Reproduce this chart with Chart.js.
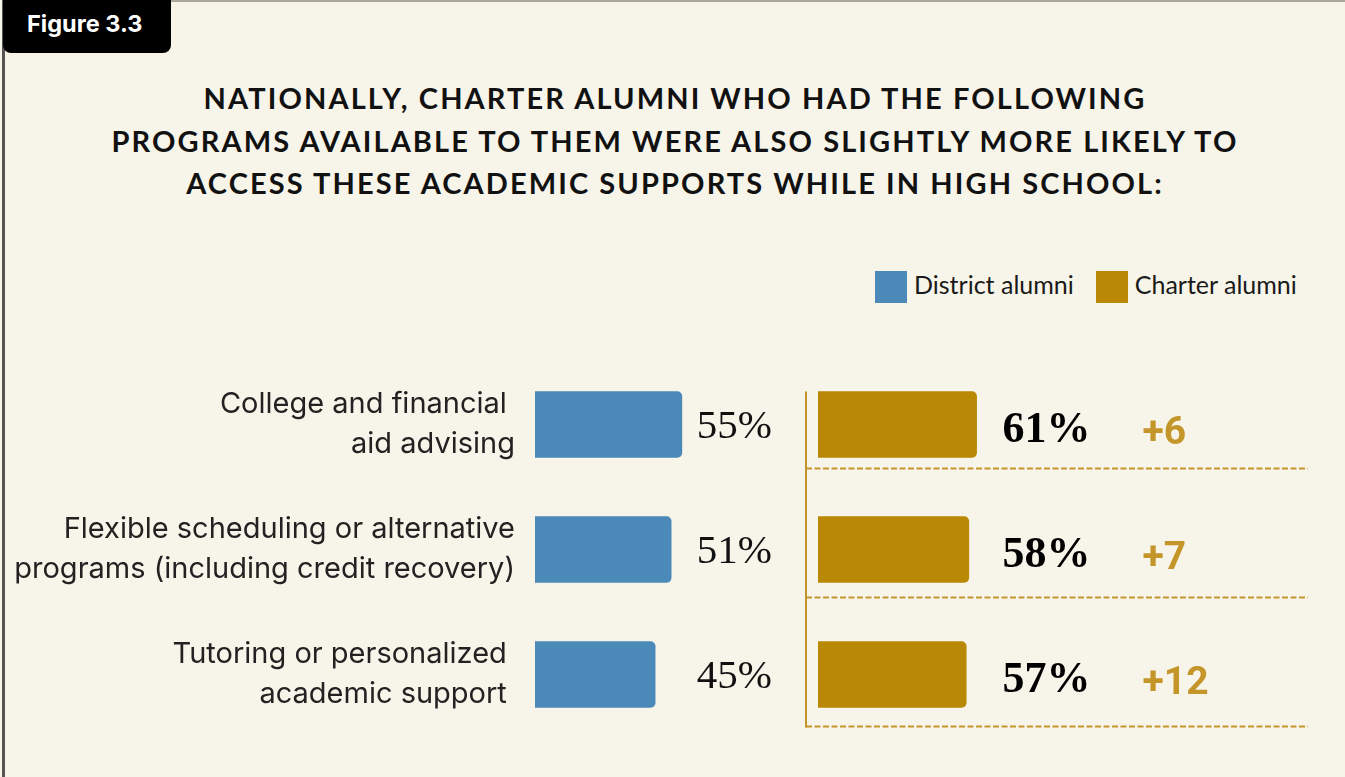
<!DOCTYPE html>
<html>
<head>
<meta charset="utf-8">
<script src="https://cdn.jsdelivr.net/npm/chart.js@4/dist/chart.umd.min.js"></script>
<style>
  body { margin: 0; width: 1345px; height: 777px; overflow: hidden; position: relative; background: #f7f4e9; }
  .frame { position: absolute; left: 2px; top: 0; width: 1360px; height: 790px; border-left: 3px solid #555; border-top: 2px solid #aba79d; box-sizing: border-box; }
  .badge { position: absolute; left: 3px; top: -10px; width: 168px; height: 63px; background: #000; border-radius: 8px;
           color: #fff; font: 700 23.5px Inter, sans-serif; box-sizing: border-box; padding: 19px 0 0 24px; }
  .title { position: absolute; left: 0; top: 77px; width: 1350px; text-align: center; color: #111;
           font: 700 29px Lato, sans-serif; line-height: 42.5px; letter-spacing: 2.1px; }
  .legend { position: absolute; left: 875px; top: 271px; height: 32px; display: flex; align-items: center; font: 25px Lato, sans-serif; color: #1a1a1a; }
  .legend span.box { width: 32px; height: 32px; display: inline-block; margin-right: 7px; }
  .legend span.txt { margin-right: 22px; position: relative; top: -3px; }
  #district { position: absolute; left: 0; top: 362px; }
  #charter { position: absolute; left: 802px; top: 362px; }
</style>
</head>
<body>
<div class="frame"></div>
<div class="badge">Figure 3.3</div>
<div class="title">NATIONALLY, CHARTER ALUMNI WHO HAD THE FOLLOWING<br>PROGRAMS AVAILABLE TO THEM WERE ALSO SLIGHTLY MORE LIKELY TO<br>ACCESS THESE ACADEMIC SUPPORTS WHILE IN HIGH SCHOOL:</div>
<div class="legend" id="legend"></div>
<canvas id="district" width="802" height="375"></canvas>
<canvas id="charter" width="543" height="375"></canvas>
<script>
const categories = [
  ["College and financial ", "aid advising"],
  ["Flexible scheduling or alternative", "programs (including credit recovery)"],
  ["Tutoring or personalized ", "academic support "]
];
const districtValues = [55, 51, 45];
const charterValues = [61, 58, 57];
const seriesNames = ["District alumni", "Charter alumni"];

const blue = "#4a89b8";
const gold = "#b98804";
const lightGold = "#c4962a";

// html legend
const legend = document.getElementById("legend");
[[seriesNames[0], blue], [seriesNames[1], gold]].forEach(function (item) {
  legend.innerHTML += '<span class="box" style="background:' + item[1] + '"></span><span class="txt">' + item[0] + '</span>';
});

const districtLabels = {
  id: "districtLabels",
  afterDatasetsDraw(chart) {
    const ctx = chart.ctx;
    const x = chart.scales.x.getPixelForValue(Math.max(...districtValues)) + 15;
    ctx.save();
    ctx.font = "41px 'Liberation Serif', serif";
    ctx.fillStyle = "#111";
    ctx.textAlign = "left";
    ctx.textBaseline = "alphabetic";
    chart.getDatasetMeta(0).data.forEach(function (bar, i) {
      ctx.fillText(districtValues[i] + "%", x, bar.y + 13);
    });
    ctx.restore();
  }
};

const charterDecor = {
  id: "charterDecor",
  afterDatasetsDraw(chart) {
    const ctx = chart.ctx;
    const area = chart.chartArea;
    const bars = chart.getDatasetMeta(0).data;
    const lineX = area.left - 12;
    ctx.save();
    ctx.strokeStyle = lightGold;
    ctx.lineWidth = 2;
    ctx.setLineDash([6, 2.5]);
    let lastY = 0;
    bars.forEach(function (bar, i) {
      const y = bar.y + bar.height / 2 + 11 + i * 4;
      ctx.beginPath();
      ctx.moveTo(lineX, y);
      ctx.lineTo(502 + lineX, y);
      ctx.stroke();
      lastY = y;
    });
    ctx.setLineDash([]);
    ctx.beginPath();
    ctx.moveTo(lineX, bars[0].y - bars[0].height / 2);
    ctx.lineTo(lineX, lastY + 1);
    ctx.stroke();

    const x = chart.scales.x.getPixelForValue(Math.max(...charterValues)) + 26;
    bars.forEach(function (bar, i) {
      ctx.font = "bold 44px 'Liberation Serif', serif";
      ctx.fillStyle = "#000";
      ctx.textAlign = "left";
      ctx.fillText(charterValues[i] + "%", x, bar.y + 17);
      ctx.font = "bold 39px Roboto, sans-serif";
      ctx.fillStyle = lightGold;
      ctx.fillText("+" + (charterValues[i] - districtValues[i]), x + 140, bar.y + 19);
    });
    ctx.restore();
  }
};

new Chart(document.getElementById("district"), {
  type: "bar",
  data: {
    labels: categories,
    datasets: [{
      label: seriesNames[0],
      data: districtValues,
      backgroundColor: blue,
      borderRadius: 5,
      borderSkipped: "start",
      barThickness: 66
    }]
  },
  options: {
    indexAxis: "y",
    responsive: false,
    animation: false,
    layout: { padding: 0 },
    plugins: { legend: { display: false }, tooltip: { enabled: false } },
    scales: {
      x: { display: false, min: 0, max: 100 },
      y: {
        grid: { display: false, drawTicks: false },
        border: { display: false },
        ticks: {
          color: "#222",
          padding: 20,
          font: { family: "Inter", size: 29, lineHeight: 1.38 }
        },
        afterFit(scale) {
          scale.width = 535;
          scale.paddingTop = 0;
          scale.paddingBottom = 0;
        }
      }
    }
  },
  plugins: [districtLabels]
});

new Chart(document.getElementById("charter"), {
  type: "bar",
  data: {
    labels: categories,
    datasets: [{
      label: seriesNames[1],
      data: charterValues,
      backgroundColor: gold,
      borderRadius: 5,
      borderSkipped: "start",
      barThickness: 66
    }]
  },
  options: {
    indexAxis: "y",
    responsive: false,
    animation: false,
    layout: { padding: { left: 16, right: 267, top: 0, bottom: 0 } },
    plugins: { legend: { display: false }, tooltip: { enabled: false } },
    scales: {
      x: { display: false, min: 0, max: 100 },
      y: { display: false }
    }
  },
  plugins: [charterDecor]
});
</script>
</body>
</html>
